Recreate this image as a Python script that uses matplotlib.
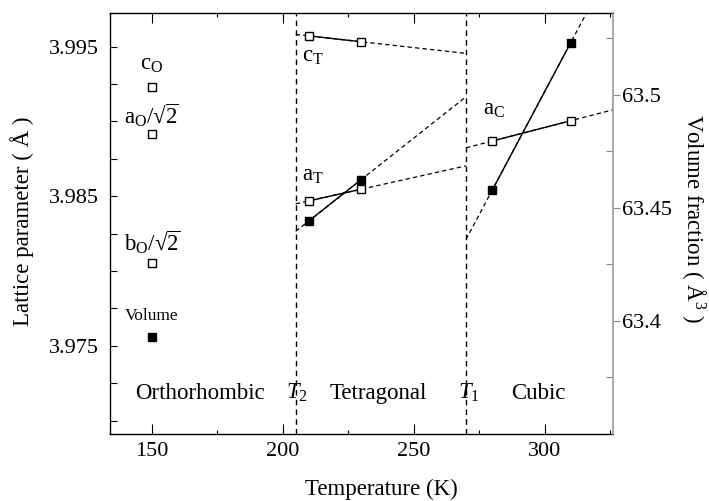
import numpy as np
import matplotlib
matplotlib.use("Agg")
import matplotlib.pyplot as plt
from matplotlib.ticker import FixedLocator, FormatStrFormatter

plt.rcParams["font.family"] = ["Liberation Serif", "DejaVu Serif"]
plt.rcParams["mathtext.fontset"] = "custom"
plt.rcParams["mathtext.rm"] = "Liberation Serif"
plt.rcParams["mathtext.it"] = "Liberation Serif:italic"
plt.rcParams["mathtext.bf"] = "Liberation Serif:bold"
plt.rcParams["mathtext.fallback"] = "stix"

# Phase transition temperatures (K)
T2 = 205
T1 = 270

# Orthorhombic phase (150 K)
temp_ortho = [150]
c_O = [3.99232]
a_O = [3.98916]
b_O = [3.98055]
vol_ortho = [63.393]

# Tetragonal phase
temp_tet = [210, 230]
c_T = [3.99572, 3.99533]
a_T = [3.98469, 3.98547]
vol_tet = [63.4442, 63.4625]

# Cubic phase
temp_cub = [280, 310]
a_C = [3.98869, 3.99005]
vol_cub = [63.4578, 63.5231]

# Tick positions
x_major = [150, 200, 250, 300]
x_minor = [175, 225, 275, 325]
yl_major = [3.975, 3.985, 3.995]
yl_minor = [3.970, 3.9725, 3.9775, 3.980, 3.9825, 3.9875, 3.990, 3.9925]
yr_major = [63.40, 63.45, 63.50]
yr_minor = [63.375, 63.425, 63.475, 63.525]

XLIM = (134.1, 326)
YLIM_L = (3.9691, 3.99723)
YLIM_R = (63.35, 63.536)

fig = plt.figure(figsize=(7.09, 5.01), dpi=100)
ax = fig.add_axes([0.1551, 0.1337, 0.7091, 0.8397])
ax2 = ax.twinx()

open_sq = dict(marker="s", ms=5.5, mfc="white", mec="black", mew=1.0, color="black", lw=1.0)
fill_sq = dict(marker="s", ms=6, mfc="black", mec="black", color="black", lw=1.0)
dash = dict(color="black", lw=0.9, ls=(0, (3.5, 2.5)))


def extend(ax_, t, y, x0, x1):
    """Dashed linear extrapolation of a two-point segment between x0 and x1."""
    k, b = np.polyfit(t, y, 1)
    xs = np.array([x0, x1])
    ax_.plot(xs, k * xs + b, **dash, zorder=2)


# Orthorhombic points
ax.plot(temp_ortho, c_O, ls="none", marker="s", ms=5.5, mfc="white", mec="black", mew=1.0)
ax.plot(temp_ortho, a_O, ls="none", marker="s", ms=5.5, mfc="white", mec="black", mew=1.0)
ax.plot(temp_ortho, b_O, ls="none", marker="s", ms=5.5, mfc="white", mec="black", mew=1.0)
ax2.plot(temp_ortho, vol_ortho, ls="none", marker="s", ms=6, mfc="black", mec="black")

# Tetragonal
extend(ax, temp_tet, c_T, T2, T1)
extend(ax, temp_tet, a_T, T2, T1)
extend(ax2, temp_tet, vol_tet, T2, T1)
ax.plot(temp_tet, c_T, **open_sq, zorder=4)
ax.plot(temp_tet, a_T, **open_sq, zorder=4)

# Cubic
extend(ax, temp_cub, a_C, T1, XLIM[1])
extend(ax2, temp_cub, vol_cub, T1, 335)
ax.plot(temp_cub, a_C, **open_sq, zorder=4)

ax2.plot(temp_tet, vol_tet, **fill_sq, zorder=5)
ax2.plot(temp_cub, vol_cub, **fill_sq, zorder=5)

# Phase boundaries
for t in (T2, T1):
    ax.axvline(t, color="black", lw=1.0, ls=(0, (4, 3)))

ax.set_xlim(*XLIM)
ax.set_ylim(*YLIM_L)
ax2.set_ylim(*YLIM_R)

fs = 16.5
# Series labels
ax.text(150, 3.99378, r"$\mathrm{c_O}$", ha="center", va="center", fontsize=fs)
ax.text(150, 3.99043, r"$\mathrm{a_O}/\mathrm{√}\overline{\mathrm{2}}$", ha="center", va="center", fontsize=fs)
ax.text(150, 3.98194, r"$\mathrm{b_O}/\mathrm{√}\overline{\mathrm{2}}$", ha="center", va="center", fontsize=fs)
ax.text(150, 3.97701, "Volume", ha="center", va="center", fontsize=12.5)
ax.text(207.3, 3.99433, r"$\mathrm{c_T}$", ha="left", va="center", fontsize=fs)
ax.text(207.3, 3.98636, r"$\mathrm{a_T}$", ha="left", va="center", fontsize=fs)
ax.text(276.4, 3.99077, r"$\mathrm{a_C}$", ha="left", va="center", fontsize=fs)

# Phase labels
yl = 3.97184
ax.text(168.4, yl, "Orthorhombic", ha="center", va="center", fontsize=fs)
ax.text(205.5, yl, r"$T_\mathrm{2}$", ha="center", va="center", fontsize=fs)
ax.text(236.4, yl, "Tetragonal", ha="center", va="center", fontsize=fs)
ax.text(271.1, yl, r"$T_\mathrm{1}$", ha="center", va="center", fontsize=fs)
ax.text(297.5, yl, "Cubic", ha="center", va="center", fontsize=fs)

# Axes formatting
ax.xaxis.set_major_locator(FixedLocator(x_major))
ax.xaxis.set_minor_locator(FixedLocator(x_minor))
ax.yaxis.set_major_locator(FixedLocator(yl_major))
ax.yaxis.set_minor_locator(FixedLocator(yl_minor))
ax.yaxis.set_major_formatter(FormatStrFormatter("%.3f"))
ax2.yaxis.set_major_locator(FixedLocator(yr_major))
ax2.yaxis.set_minor_locator(FixedLocator(yr_minor))
ax2.yaxis.set_major_formatter(matplotlib.ticker.FuncFormatter(lambda v, p: f"{v:g}"))

tls = 16
ax.tick_params(axis="x", which="both", direction="in", top=True, labelsize=tls, pad=6)
ax.tick_params(axis="x", which="major", length=7, width=0.8)
ax.tick_params(axis="x", which="minor", length=3, width=0.8)
ax.tick_params(axis="y", which="both", direction="in", length=5, width=0.8,
               labelsize=tls, pad=8)
ax2.tick_params(axis="y", which="major", direction="out", length=5, width=0.8,
                labelsize=tls, color="#888888", pad=2)
ax2.tick_params(axis="y", which="minor", direction="in", length=5, width=0.8, color="#888888")

for s in ("left", "bottom", "top"):
    ax.spines[s].set_linewidth(1.0)
ax.spines["right"].set_visible(False)
for s in ("left", "bottom", "top"):
    ax2.spines[s].set_visible(False)
ax2.spines["right"].set_color("#999999")
ax2.spines["right"].set_linewidth(1.2)

ax.set_xlabel("Temperature (K)", fontsize=fs, va="center")
ax.xaxis.set_label_coords(0.540, -0.1307)
ax.set_ylabel("Lattice parameter ( Å )", fontsize=fs, va="center")
ax.yaxis.set_label_coords(-0.175, 0.506)
ax2.set_ylabel("Volume fraction ( Å$^3$ )", fontsize=fs, rotation=270, va="center")
ax2.yaxis.set_label_coords(1.162, 0.513)

fig.savefig("out.png", dpi=100)
